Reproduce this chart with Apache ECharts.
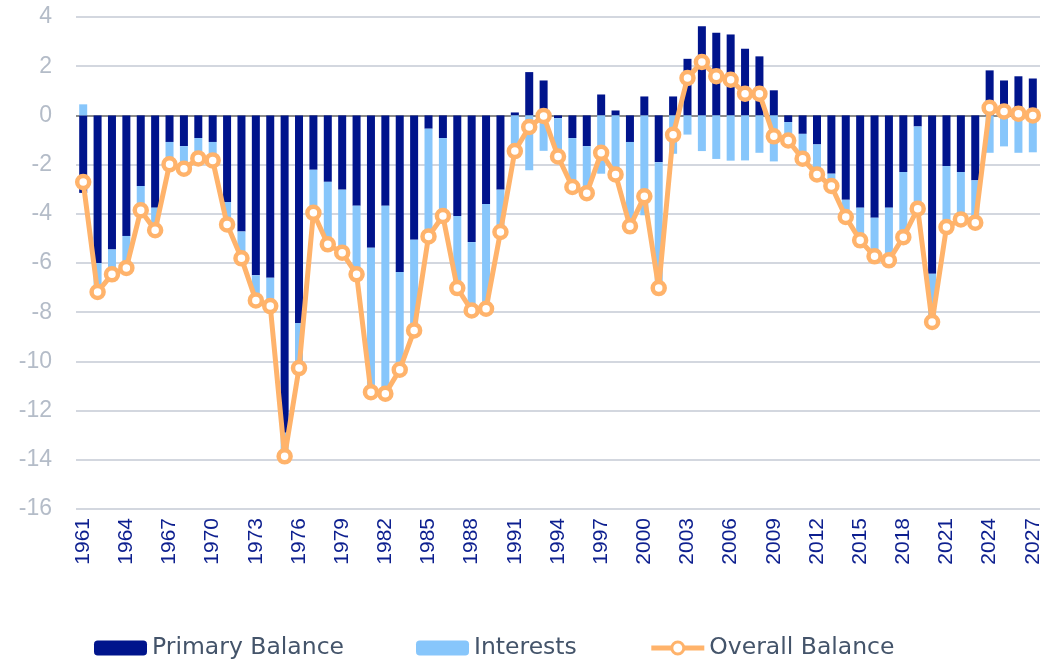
<!DOCTYPE html>
<html>
<head>
<meta charset="utf-8">
<script src="https://cdn.jsdelivr.net/npm/echarts@6/dist/echarts.min.js"></script>
<style>
html,body{margin:0;padding:0;background:#fff;}
#chart{width:1056px;height:660px;}
</style>
</head>
<body>
<div id="chart"></div>
<script>
var years = [];
for (var y = 1961; y <= 2027; y++) years.push(String(y));

var yTicks = [4, 2, 0, -2, -4, -6, -8, -10, -12, -14, -16];

var primaryBalance = [
  -3.15, -6.0, -5.45, -4.9, -2.87, -3.75, -1.08, -1.25, -0.92, -1.08,
  -3.52, -4.72, -6.5, -6.6, -12.9, -8.44, -2.21, -2.7, -3.02, -3.67,
  -5.38, -3.67, -6.37, -5.05, -0.54, -0.92, -4.09, -5.15, -3.6, -3.02,
  0.12, 1.76, 1.42, -0.11, -0.92, -1.25, 0.85, 0.2, -1.08, 0.77,
  -1.9, 0.77, 2.3, 3.62, 3.36, 3.29, 2.71, 2.4, 1.02, -0.27,
  -0.75, -1.18, -2.37, -3.43, -3.75, -4.16, -3.75, -2.3, -0.45, -6.44,
  -2.06, -2.3, -2.64, 1.83, 1.42, 1.59, 1.5
];

var interests = [
  0.45, -1.18, -1.01, -1.3, -0.99, -0.92, -0.91, -0.92, -0.83, -0.75,
  -0.91, -1.09, -1.02, -1.15, -0.96, -1.83, -1.75, -2.54, -2.56, -2.79,
  -5.87, -7.64, -3.97, -3.69, -4.38, -3.17, -2.93, -2.78, -4.26, -1.72,
  -1.57, -2.23, -1.44, -1.56, -1.99, -1.91, -2.37, -2.6, -3.43, -4.06,
  -5.12, -1.56, -0.78, -1.45, -1.77, -1.84, -1.83, -1.52, -1.87, -0.75,
  -1.01, -1.22, -0.5, -0.7, -1.33, -1.57, -2.14, -2.65, -3.34, -1.96,
  -2.48, -1.93, -1.72, -1.52, -1.26, -1.52, -1.5
];

var overallBalance = [
  -2.71, -7.18, -6.46, -6.2, -3.86, -4.67, -1.99, -2.17, -1.75, -1.83,
  -4.43, -5.81, -7.52, -7.75, -13.86, -10.27, -3.96, -5.24, -5.58, -6.46,
  -11.25, -11.31, -10.34, -8.74, -4.92, -4.09, -7.02, -7.93, -7.86, -4.74,
  -1.45, -0.47, -0.02, -1.67, -2.91, -3.16, -1.52, -2.4, -4.51, -3.29,
  -7.02, -0.79, 1.52, 2.17, 1.59, 1.45, 0.88, 0.88, -0.85, -1.02,
  -1.76, -2.4, -2.87, -4.13, -5.08, -5.73, -5.89, -4.95, -3.79, -8.4,
  -4.54, -4.23, -4.36, 0.31, 0.16, 0.07, 0.0
];

// split lines are counted from the bottom (-16) upwards; the 9th one is 0
var gridColors = ['#D3D7DF', '#D3D7DF', '#D3D7DF', '#D3D7DF', '#D3D7DF', '#D3D7DF',
  '#D3D7DF', '#D3D7DF', '#8C8C8C', '#D3D7DF', '#D3D7DF'];

var chart = echarts.init(document.getElementById('chart'));
chart.setOption({
  animation: false,
  grid: {left: 76, right: 16, top: 17, bottom: 151},
  legend: {
    left: 94, top: 636, padding: 0,
    itemWidth: 53, itemHeight: 15, itemGap: 72,
    textStyle: {fontFamily: 'DejaVu Sans', fontSize: 23.5, color: '#44546A'},
    data: [
      {name: 'Primary Balance'},
      {name: 'Interests'},
      {name: 'Overall Balance', lineStyle: {width: 5, color: '#FFB36B'},
       itemStyle: {color: '#FFFFFF', borderColor: '#FFB36B', borderWidth: 3}}
    ]
  },
  xAxis: {
    type: 'category', data: years,
    axisLine: {show: false, onZero: false},
    axisTick: {show: false},
    axisLabel: {show: false}
  },
  yAxis: {
    type: 'value', min: -16, max: 4, interval: 2,
    axisLine: {show: false}, axisTick: {show: false},
    axisLabel: {show: false},
    splitLine: {lineStyle: {color: gridColors, width: 2}}
  },
  series: [{
    name: 'Primary Balance', type: 'bar', stack: 'bal', barWidth: 8,
    itemStyle: {color: '#00148C'}, data: primaryBalance
  }, {
    name: 'Interests', type: 'bar', stack: 'bal', barWidth: 8,
    itemStyle: {color: '#87C6FB'}, data: interests
  }, {
    name: 'Overall Balance', type: 'line', z: 5, symbol: 'circle', symbolSize: 12,
    showAllSymbol: true,
    lineStyle: {color: '#FFB36B', width: 5},
    itemStyle: {color: '#FFFFFF', borderColor: '#FFB36B', borderWidth: 4.5},
    data: overallBalance
  }]
});

// Axis tick labels, placed through the chart's own axis scales
var x0 = chart.convertToPixel({xAxisIndex: 0}, years[0]);
var x1 = chart.convertToPixel({xAxisIndex: 0}, years[1]);
var gridLeft = x0 - (x1 - x0) / 2;
var gridBottom = chart.convertToPixel({yAxisIndex: 0}, yTicks[yTicks.length - 1]);
var labels = [];
for (var i = 0; i < years.length; i += 3) {
  labels.push({
    type: 'text', silent: true, z: 10,
    x: chart.convertToPixel({xAxisIndex: 0}, years[i]),
    y: gridBottom + 9,
    rotation: Math.PI / 2,
    style: {text: years[i], fill: '#0D1F8F', fontSize: 21, fontFamily: 'Liberation Sans',
            align: 'right', verticalAlign: 'middle'}
  });
}
for (var j = 0; j < yTicks.length; j++) {
  labels.push({
    type: 'text', silent: true, z: 10,
    x: gridLeft - 24,
    y: chart.convertToPixel({yAxisIndex: 0}, yTicks[j]),
    style: {text: String(yTicks[j]), fill: '#B4BCC8', fontSize: 23, fontFamily: 'Liberation Sans',
            align: 'right', verticalAlign: 'middle'}
  });
}
chart.setOption({graphic: labels});
</script>
</body>
</html>
